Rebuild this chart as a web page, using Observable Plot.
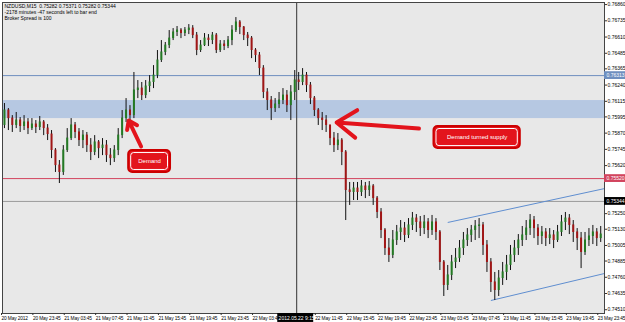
<!DOCTYPE html>
<html><head><meta charset="utf-8">
<script src="https://cdn.jsdelivr.net/npm/d3@7"></script>
<script src="https://cdn.jsdelivr.net/npm/@observablehq/plot@0.6"></script>
<style>html,body{margin:0;padding:0;background:#fff;} .xax text{letter-spacing:-0.12px;}</style>
</head><body><div id="chart"></div>
<script>
// ---- data ----
const headerLines = ["NZDUSD,M15  0.75282 0.75371 0.75282 0.75344", "-2178 minutes -47 seconds left to bar end", "Broker Spread is 100"];
const barStart = "2012-05-20T20:00:00Z";
const barMinutes = 30;
const firstOpen = 0.75929;
const closes = [0.76044,0.75982,0.75929,0.75967,0.75921,0.75952,0.75905,0.75936,0.75913,0.75952,
0.75905,0.75859,0.75736,0.75620,0.75567,0.75736,0.75828,0.75929,0.75875,0.75813,
0.75851,0.75774,0.75721,0.75798,0.75751,0.75774,0.75697,0.75674,0.75736,0.75851,
0.75982,0.76044,0.76005,0.76198,0.76213,0.76159,0.76229,0.76260,0.76313,0.76429,
0.76491,0.76544,0.76598,0.76645,0.76660,0.76637,0.76660,0.76675,0.76621,0.76506,
0.76544,0.76598,0.76583,0.76621,0.76506,0.76552,0.76537,0.76583,0.76660,0.76722,
0.76683,0.76621,0.76598,0.76506,0.76467,0.76367,0.76183,0.76121,0.76059,0.76090,
0.76121,0.76159,0.76082,0.76183,0.76275,0.76260,0.76313,0.76236,0.76136,0.76044,
0.75982,0.75967,0.75929,0.75828,0.75774,0.75813,0.75721,0.75428,0.75413,0.75443,
0.75413,0.75459,0.75428,0.75459,0.75366,0.75259,0.75120,0.74981,0.74928,0.75043,
0.75105,0.75135,0.75082,0.75159,0.75212,0.75182,0.75135,0.75182,0.75120,0.75182,
0.75105,0.74874,0.74697,0.74774,0.74874,0.74904,0.74981,0.75043,0.75082,0.75120,
0.75151,0.75159,0.75005,0.74874,0.74720,0.74658,0.74750,0.74797,0.74851,0.74928,
0.74981,0.75043,0.75082,0.75135,0.75197,0.75135,0.75074,0.75105,0.75058,0.75082,
0.75043,0.75105,0.75182,0.75212,0.75159,0.75105,0.75058,0.74951,0.75043,0.75074,
0.75105,0.75058,0.75089];
const highs = [0.76098,0.76059,0.76005,0.76029,0.75990,0.76005,0.75982,0.75982,0.75967,0.75998,
0.75967,0.75936,0.75890,0.75751,0.75659,0.75774,0.75905,0.75982,0.75952,0.75905,
0.75890,0.75875,0.75828,0.75851,0.75813,0.75828,0.75813,0.75751,0.75774,0.75905,
0.76044,0.76136,0.76082,0.76337,0.76275,0.76260,0.76275,0.76313,0.76390,0.76506,
0.76583,0.76568,0.76660,0.76675,0.76691,0.76675,0.76683,0.76706,0.76698,0.76645,
0.76583,0.76637,0.76629,0.76645,0.76637,0.76583,0.76583,0.76614,0.76698,0.76760,
0.76737,0.76691,0.76645,0.76614,0.76521,0.76491,0.76390,0.76213,0.76152,0.76136,
0.76183,0.76213,0.76198,0.76236,0.76352,0.76337,0.76367,0.76337,0.76260,0.76152,
0.76059,0.76029,0.76005,0.75929,0.75875,0.75867,0.75828,0.75736,0.75490,0.75490,
0.75490,0.75505,0.75490,0.75497,0.75474,0.75382,0.75289,0.75135,0.75058,0.75120,
0.75159,0.75197,0.75182,0.75212,0.75259,0.75243,0.75228,0.75236,0.75212,0.75236,
0.75212,0.75120,0.74889,0.74851,0.74928,0.74981,0.75043,0.75105,0.75135,0.75159,
0.75197,0.75212,0.75182,0.75043,0.74904,0.74797,0.74812,0.74874,0.74928,0.75005,
0.75043,0.75089,0.75151,0.75197,0.75243,0.75228,0.75166,0.75151,0.75135,0.75135,
0.75120,0.75159,0.75236,0.75259,0.75243,0.75197,0.75135,0.75105,0.75105,0.75135,
0.75159,0.75135,0.75151];
const lows = [0.75905,0.75890,0.75875,0.75905,0.75875,0.75890,0.75859,0.75890,0.75867,0.75890,
0.75851,0.75813,0.75674,0.75567,0.75482,0.75544,0.75721,0.75813,0.75828,0.75767,
0.75751,0.75721,0.75659,0.75697,0.75674,0.75697,0.75644,0.75620,0.75644,0.75697,
0.75828,0.75952,0.75952,0.75982,0.76136,0.76121,0.76136,0.76183,0.76213,0.76290,
0.76414,0.76467,0.76521,0.76583,0.76614,0.76598,0.76614,0.76629,0.76598,0.76467,
0.76491,0.76537,0.76537,0.76552,0.76483,0.76491,0.76506,0.76521,0.76544,0.76645,
0.76629,0.76583,0.76537,0.76444,0.76414,0.76313,0.76136,0.76044,0.75967,0.76029,
0.76059,0.76090,0.76029,0.75967,0.76121,0.76198,0.76236,0.76183,0.76090,0.75998,
0.75929,0.75890,0.75875,0.75774,0.75721,0.75736,0.75620,0.75197,0.75313,0.75351,
0.75351,0.75382,0.75366,0.75382,0.75313,0.75212,0.75058,0.74928,0.74874,0.74904,
0.75005,0.75043,0.75028,0.75058,0.75120,0.75105,0.75074,0.75089,0.75058,0.75082,
0.75043,0.74812,0.74612,0.74658,0.74735,0.74827,0.74874,0.74928,0.74997,0.75028,
0.75043,0.75058,0.74928,0.74797,0.74643,0.74581,0.74612,0.74697,0.74735,0.74812,
0.74874,0.74928,0.74997,0.75043,0.75082,0.75058,0.75005,0.75012,0.74997,0.75012,
0.74981,0.75028,0.75074,0.75120,0.75089,0.75028,0.74966,0.74827,0.74928,0.74997,
0.75012,0.74997,0.75028];
const priceTicks = [0.76860,0.76735,0.76610,0.76485,0.76365,0.76240,0.76115,0.75995,0.75870,0.75745,
0.75620,0.75250,0.75130,0.75005,0.74885,0.74760,0.74635,0.74510];
const timeTicks = ["2012-05-20T19:45Z","2012-05-20T23:45Z","2012-05-21T03:45Z","2012-05-21T07:45Z","2012-05-21T11:45Z",
"2012-05-21T15:45Z","2012-05-21T19:45Z","2012-05-21T23:45Z","2012-05-22T03:45Z",
"2012-05-22T11:45Z","2012-05-22T15:45Z","2012-05-22T19:45Z","2012-05-22T23:45Z","2012-05-23T03:45Z",
"2012-05-23T07:45Z","2012-05-23T11:45Z","2012-05-23T15:45Z","2012-05-23T19:45Z","2012-05-23T23:45Z"];
const firstTickLabel = "20 May 2012";
const xStart = "2012-05-20T19:45Z", xEnd = "2012-05-24T00:29Z", axisEnd = "2012-05-24T03:15Z";
const yMin = 0.74481, yMax = 0.76876, yBelow = 0.74412;
const zone = {low: 0.75982, high: 0.76121};
const levels = [{price: 0.76313, color: "#6f8fbf", label: "0.76313"},
                {price: 0.75520, color: "#d2445e", label: "0.75520"},
                {price: 0.75344, color: "#9a9a9a", label: "0.75344", box: "#000"}];
const crosshairTime = "2012-05-22T09:15Z", crosshairLabel = "2012.05.22 9:15";
const crossBox = ["2012-05-22T06:50Z", "2012-05-22T11:25Z"];
const channels = [{t1: "2012-05-23T04:30Z", p1: 0.75182, t2: xEnd, p2: 0.75443},
                  {t1: "2012-05-23T10:00Z", p1: 0.74581, t2: xEnd, p2: 0.74789}];
const boxes = [{t1: "2012-05-21T11:50Z", t2: "2012-05-21T17:10Z", p1: 0.75567, p2: 0.75736, label: "Demand"},
               {t1: "2012-05-23T02:45Z", t2: "2012-05-23T13:45Z", p1: 0.75751, p2: 0.75921, label: "Demand turned supply"}];
const arrows = [{t1: "2012-05-21T13:25Z", p1: 0.75767, t2: "2012-05-21T11:50Z", p2: 0.75967},
                {t1: "2012-05-23T00:50Z", p1: 0.75905, t2: "2012-05-22T14:20Z", p2: 0.75952}];

// ---- build ----
const D = s => new Date(s);
const t0 = D(barStart);
const bars = closes.map((c, i) => ({t: new Date(+t0 + i * barMinutes * 60000), o: i ? closes[i - 1] : firstOpen, h: highs[i], l: lows[i], c}));
const months = ["Jan","Feb","Mar","Apr","May","Jun","Jul","Aug","Sep","Oct","Nov","Dec"];
const pad = n => String(n).padStart(2, "0");
const fmtTime = (d, i) => i === 0 ? firstTickLabel : `${d.getUTCDate()} ${months[d.getUTCMonth()]} ${pad(d.getUTCHours())}:${pad(d.getUTCMinutes())}`;
const tickDates = timeTicks.map(D);
const chans = channels.map(c => ({...c, t1: D(c.t1), t2: D(c.t2)}));
const bxs = boxes.map(b => ({...b, t1: D(b.t1), t2: D(b.t2), tm: new Date((+D(b.t1) + +D(b.t2)) / 2), pm: (b.p1 + b.p2) / 2}));
const arws = arrows.map(a => ({...a, t1: D(a.t1), t2: D(a.t2)}));
const half = 0.00030;

const chart = Plot.plot({
  width: 625, height: 322,
  marginLeft: 2, marginRight: 21, marginTop: 2, marginBottom: 9,
  style: {fontFamily: "Liberation Sans, Arial, sans-serif", fontSize: "5px", background: "#fff", color: "#000", overflow: "visible"},
  x: {type: "utc", domain: [D(xStart), D(xEnd)], axis: null},
  y: {domain: [yMin, yMax], axis: null},
  marks: [
    Plot.frame({fill: "#e8e8e8"}),
    Plot.rect([zone], {x1: () => D(xStart), x2: () => D(xEnd), y1: "low", y2: "high", fill: "#b6c8e2"}),
    Plot.ruleY(levels, {y: "price", stroke: "color", strokeWidth: 1}),
    Plot.ruleX([crosshairTime], {x: D, stroke: "#333", strokeWidth: 1}),
    Plot.link(chans, {x1: "t1", y1: "p1", x2: "t2", y2: "p2", stroke: "#5f8ed0", strokeWidth: 1}),
    Plot.ruleX(bars, {x: "t", y1: "l", y2: "h", stroke: "#111", strokeWidth: 1}),
    Plot.ruleX(bars, {x: "t", y1: d => Math.min(d.o, d.c), y2: d => Math.max(d.o, d.c) + 0.00004, stroke: d => d.c >= d.o ? "#237a23" : "#a11616", strokeWidth: 2}),
    Plot.frame({stroke: "#444", strokeWidth: 1}),
    Plot.axisY(priceTicks, {anchor: "right", tickSize: 2, tickPadding: 1, tickFormat: d => d.toFixed(5), fontSize: 5, stroke: "#333"}),
    Plot.axisX(tickDates, {anchor: "bottom", tickSize: 2, tickPadding: 1, textAnchor: "start", dx: -1, tickFormat: fmtTime, fontSize: 4.8, stroke: "#333", className: "xax"}),
    Plot.rect([crossBox], {x1: d => D(d[0]), x2: d => D(d[1]), y1: () => yMin, y2: () => yBelow, fill: "#000"}),
    Plot.text([crosshairLabel], {x: () => D(crosshairTime), y: () => (yMin + yBelow) / 2, fill: "#fff", fontSize: 5}),
    Plot.rect(levels, {x1: () => D(xEnd), x2: () => D(axisEnd), y1: d => d.price - half, y2: d => d.price + half, fill: d => d.box || d.color}),
    Plot.text(levels, {x: () => D(xEnd), y: "price", text: "label", textAnchor: "start", dx: 2, fill: "#fff", fontSize: 5}),
    Plot.arrow(arws, {x1: "t1", y1: "p1", x2: "t2", y2: "p2", stroke: "#e3141c", strokeWidth: 4, headLength: 9, headAngle: 70, bend: 0}),
    Plot.rect(bxs, {x1: "t1", x2: "t2", y1: "p1", y2: "p2", fill: "#e3141c", stroke: "#c00", strokeWidth: 2, rx: 4}),
    Plot.rect(bxs, {x1: "t1", x2: "t2", y1: "p1", y2: "p2", fill: "none", stroke: "#fff", strokeWidth: 1, inset: 2.5, rx: 3}),
    Plot.text(bxs, {x: "tm", y: "pm", text: "label", fill: "#fff", fontSize: 6}),
    Plot.text([headerLines.join("\n")], {frameAnchor: "top-left", dx: 2, dy: 1, lineAnchor: "top", lineHeight: 1.2, fontSize: 5, fill: "#000"})
  ]
});
document.getElementById("chart").appendChild(chart);
</script>
</body></html>
